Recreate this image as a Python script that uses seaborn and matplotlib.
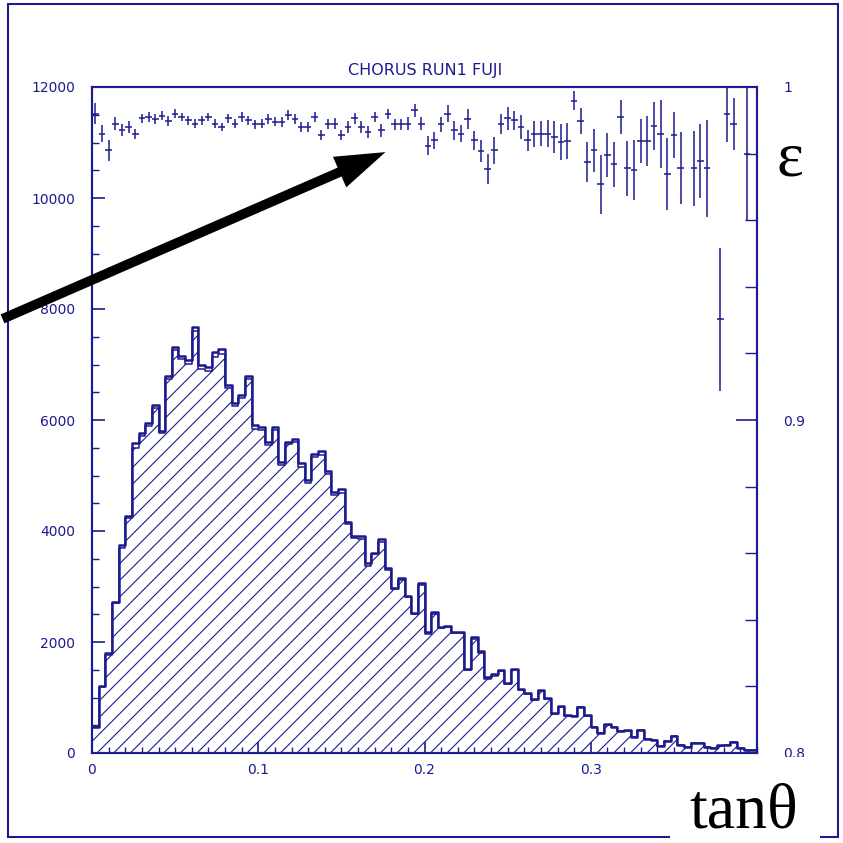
import numpy as np
import pandas as pd
import matplotlib
matplotlib.use("Agg")
import matplotlib.pyplot as plt
import seaborn as sns
from matplotlib.patches import Rectangle, FancyArrowPatch
from matplotlib.ticker import MultipleLocator, FixedLocator, FixedFormatter

NAVY = "#1b1b8f"

# 100 bins in tan(theta) from 0 to 0.4
n_bins = 100
tan_range = (0.0, 0.4)
bin_edges = np.linspace(tan_range[0], tan_range[1], n_bins + 1)
bin_centers = 0.5 * (bin_edges[:-1] + bin_edges[1:])

# all reconstructed tracks per bin
all_tracks = [
    474, 1207, 1796, 2727, 3748, 4277, 5581, 5772, 5941, 6271,
    5808, 6799, 7322, 7160, 7082, 7682, 6992, 6950, 7220, 7280,
    6631, 6313, 6451, 6799, 5911, 5880, 5610, 5880, 5250, 5610,
    5653, 5220, 4919, 5388, 5448, 5082, 4709, 4757, 4168, 3910,
    3910, 3418, 3610, 3850, 3328, 2979, 3159, 2835, 2517, 3069,
    2186, 2546, 2276, 2294, 2186, 2186, 1514, 2085, 1838, 1375,
    1418, 1496, 1256, 1508, 1148, 1087, 968, 1135, 986, 715,
    847, 685, 667, 835, 685, 474, 366, 523, 474, 400,
    414, 294, 414, 252, 234, 126, 216, 306, 144, 102,
    186, 186, 102, 84, 144, 144, 204, 84, 54, 54,
]

# tracks found by the selection (hatched)
selected_tracks = [
    470, 1190, 1762, 2697, 3699, 4226, 5503, 5718, 5888, 6211,
    5758, 6730, 7263, 7096, 7011, 7598, 6922, 6887, 7141, 7193,
    6569, 6244, 6393, 6731, 5845, 5815, 5556, 5819, 5195, 5563,
    5599, 5157, 4860, 5340, 5370, 5026, 4657, 4689, 4118, 3873,
    3863, 3372, 3578, 3800, 3301, 2946, 3124, 2804, 2499, 3035,
    2148, 2505, 2251, 2276, 2158, 2155, 1499, 2052, 1803, 1341,
    1391, 1479, 1244, 1493, 1134, 1070, 954, 1119, 972, 704,
    833, 674, 664, 826, 670, 465, 355, 512, 463, 396,
    404, 287, 407, 248, 231, 124, 210, 302, 140, 102,
    181, 182, 100, 84, 134, 143, 202, 84, 53, 54,
]

# efficiency per bin (right axis) and its error
efficiency = [
    0.992, 0.986, 0.981, 0.989, 0.987, 0.988, 0.986, 0.9906, 0.991, 0.9904,
    0.9914, 0.9898, 0.992, 0.991, 0.990, 0.989, 0.990, 0.991, 0.989, 0.988,
    0.9906, 0.989, 0.991, 0.990, 0.9888, 0.989, 0.9904, 0.9896, 0.9896, 0.9916,
    0.9904, 0.988, 0.988, 0.991, 0.9856, 0.989, 0.989, 0.9856, 0.988, 0.9906,
    0.988, 0.9866, 0.991, 0.987, 0.9918, 0.9888, 0.9888, 0.989, 0.993, 0.989,
    0.9824, 0.984, 0.9888, 0.992, 0.987, 0.986, 0.9904, 0.984, 0.9808, 0.9753,
    0.981, 0.9888, 0.9906, 0.990, 0.988, 0.984, 0.986, 0.986, 0.986, 0.985,
    0.9836, 0.9838, 0.9959, 0.9898, 0.9776, 0.981, 0.9708, 0.9796, 0.9768, 0.991,
    0.9756, 0.975, 0.9838, 0.9838, 0.9883, 0.986, 0.974, 0.9856, 0.9756, np.nan,
    0.9756, 0.9778, 0.9756, np.nan, 0.9303, 0.992, 0.989, np.nan, 0.980, np.nan,
]
efficiency_err = [
    0.0032, 0.0025, 0.0032, 0.0020, 0.0018, 0.0017, 0.0015, 0.0014, 0.0014, 0.0014,
    0.0014, 0.0014, 0.0013, 0.0013, 0.0013, 0.0013, 0.0013, 0.0013, 0.0013, 0.0013,
    0.0013, 0.0014, 0.0014, 0.0013, 0.0014, 0.0014, 0.0014, 0.0014, 0.0015, 0.0014,
    0.0014, 0.0015, 0.0015, 0.0014, 0.0016, 0.0015, 0.0016, 0.0016, 0.0017, 0.0017,
    0.0017, 0.0018, 0.0016, 0.0020, 0.0015, 0.0016, 0.0016, 0.0019, 0.0020, 0.0020,
    0.0029, 0.0025, 0.0023, 0.0025, 0.0028, 0.0026, 0.0029, 0.0029, 0.0032, 0.0045,
    0.0040, 0.0030, 0.0034, 0.0028, 0.0035, 0.0031, 0.0039, 0.0038, 0.0040, 0.0047,
    0.0054, 0.0055, 0.0029, 0.0039, 0.0060, 0.0065, 0.0088, 0.0065, 0.0068, 0.0050,
    0.0082, 0.0090, 0.0065, 0.0074, 0.0072, 0.0102, 0.0108, 0.0070, 0.0108, 0.0,
    0.0113, 0.0112, 0.0145, 0.0, 0.0215, 0.0085, 0.0078, 0.0, 0.0200, 0.0,
]

x_ticks = [0.0, 0.1, 0.2, 0.3]
x_tick_labels = ["0", "0.1", "0.2", "0.3"]
count_ticks = [0, 2000, 4000, 6000, 8000, 10000, 12000]
eff_ticks = [0.8, 0.9, 1.0]
eff_tick_labels = ["0.8", "0.9", "1"]

sns.set_style("ticks")
plt.rcParams["font.family"] = ["DejaVu Sans"]
plt.rcParams["hatch.color"] = NAVY
plt.rcParams["hatch.linewidth"] = 0.8

W = H = 843
fig = plt.figure(figsize=(W / 100, H / 100), dpi=100)
ax = fig.add_axes([92 / W, 90 / H, 665 / W, 666 / H])

df = pd.DataFrame({"tan_theta": bin_centers,
                   "all": all_tracks,
                   "selected": selected_tracks})

sns.histplot(data=df, x="tan_theta", weights="selected", bins=n_bins,
             binrange=tan_range, element="step", fill=True, color=NAVY,
             facecolor="none", edgecolor=NAVY, hatch="//", linewidth=1.1, ax=ax)
sns.histplot(data=df, x="tan_theta", weights="all", bins=n_bins,
             binrange=tan_range, element="step", fill=False, color=NAVY,
             linewidth=1.8, ax=ax)

ax.set_xlim(0, 0.4)
ax.set_ylim(0, 12000)
ax.set_xlabel("")
ax.set_ylabel("")

for side in ["left", "right", "top", "bottom"]:
    ax.spines[side].set_visible(True)
    ax.spines[side].set_color(NAVY)
    ax.spines[side].set_linewidth(1.5)

ax.xaxis.set_major_locator(FixedLocator(x_ticks))
ax.xaxis.set_major_formatter(FixedFormatter(x_tick_labels))
ax.xaxis.set_minor_locator(MultipleLocator(0.01))
ax.yaxis.set_major_locator(FixedLocator(count_ticks))
ax.yaxis.set_minor_locator(MultipleLocator(500))

ax.tick_params(axis="x", which="major", direction="in", length=8, width=1.2,
               color=NAVY, labelcolor=NAVY, labelsize=10, pad=7, top=False)
ax.tick_params(axis="x", which="minor", direction="in", length=4.5, width=1.0,
               color=NAVY, top=False)
ax.tick_params(axis="y", which="major", direction="in", length=9.5, width=1.2,
               color=NAVY, labelcolor=NAVY, labelsize=10, pad=12, right=False)
ax.tick_params(axis="y", which="minor", direction="in", length=5, width=1.0,
               color=NAVY, right=False)

# efficiency on the right-hand scale
ax2 = ax.twinx()
ax2.errorbar(bin_centers, efficiency, xerr=0.002, yerr=efficiency_err,
             fmt="none", ecolor=NAVY, elinewidth=1.1, capsize=0)
ax2.set_ylim(0.8, 1.0)
ax2.yaxis.set_major_locator(FixedLocator(eff_ticks))
ax2.yaxis.set_major_formatter(FixedFormatter(eff_tick_labels))
ax2.yaxis.set_minor_locator(MultipleLocator(0.02))
ax2.tick_params(axis="y", which="major", direction="in", length=15, width=1.2,
                color=NAVY, labelcolor=NAVY, labelsize=10, pad=19)
ax2.tick_params(axis="y", which="minor", direction="in", length=8.5, width=1.0,
                color=NAVY)
for side in ["left", "right", "top", "bottom"]:
    ax2.spines[side].set_color(NAVY)
    ax2.spines[side].set_linewidth(1.5)

fig.text(425 / W, 1 - 70 / H, "CHORUS RUN1 FUJI", ha="center", va="center",
         fontsize=11.5, color=NAVY)

# outer frame
fig.add_artist(Rectangle((8 / W, 1 - 836.5 / H), 830 / W, 832.5 / H,
                         transform=fig.transFigure, fill=False,
                         edgecolor=NAVY, linewidth=1.5, zorder=1))

# white patch behind the x-axis caption (hides the frame and part of "0.8")
fig.add_artist(Rectangle((670 / W, 0.0), 150 / W, (H - 757) / H,
                         transform=fig.transFigure, facecolor="white",
                         edgecolor="none", zorder=1.5))

# axis annotations
fig.text(790 / W, 1 - 160 / H, "ε", ha="center", va="center",
         fontsize=46, family="Liberation Serif", color="black", zorder=2)
fig.text(744 / W, 1 - 827 / H, "tanθ", ha="center", va="baseline",
         fontsize=46, family="Liberation Serif", color="black", zorder=2)

# pointer arrow
fig.add_artist(FancyArrowPatch((0 / W, 1 - 320 / H), (388 / W, 1 - 151 / H),
                               transform=fig.transFigure,
                               arrowstyle="simple,head_length=36,head_width=24,tail_width=7",
                               mutation_scale=1, color="black", linewidth=0,
                               zorder=2))

fig.savefig("out.png", dpi=100)
